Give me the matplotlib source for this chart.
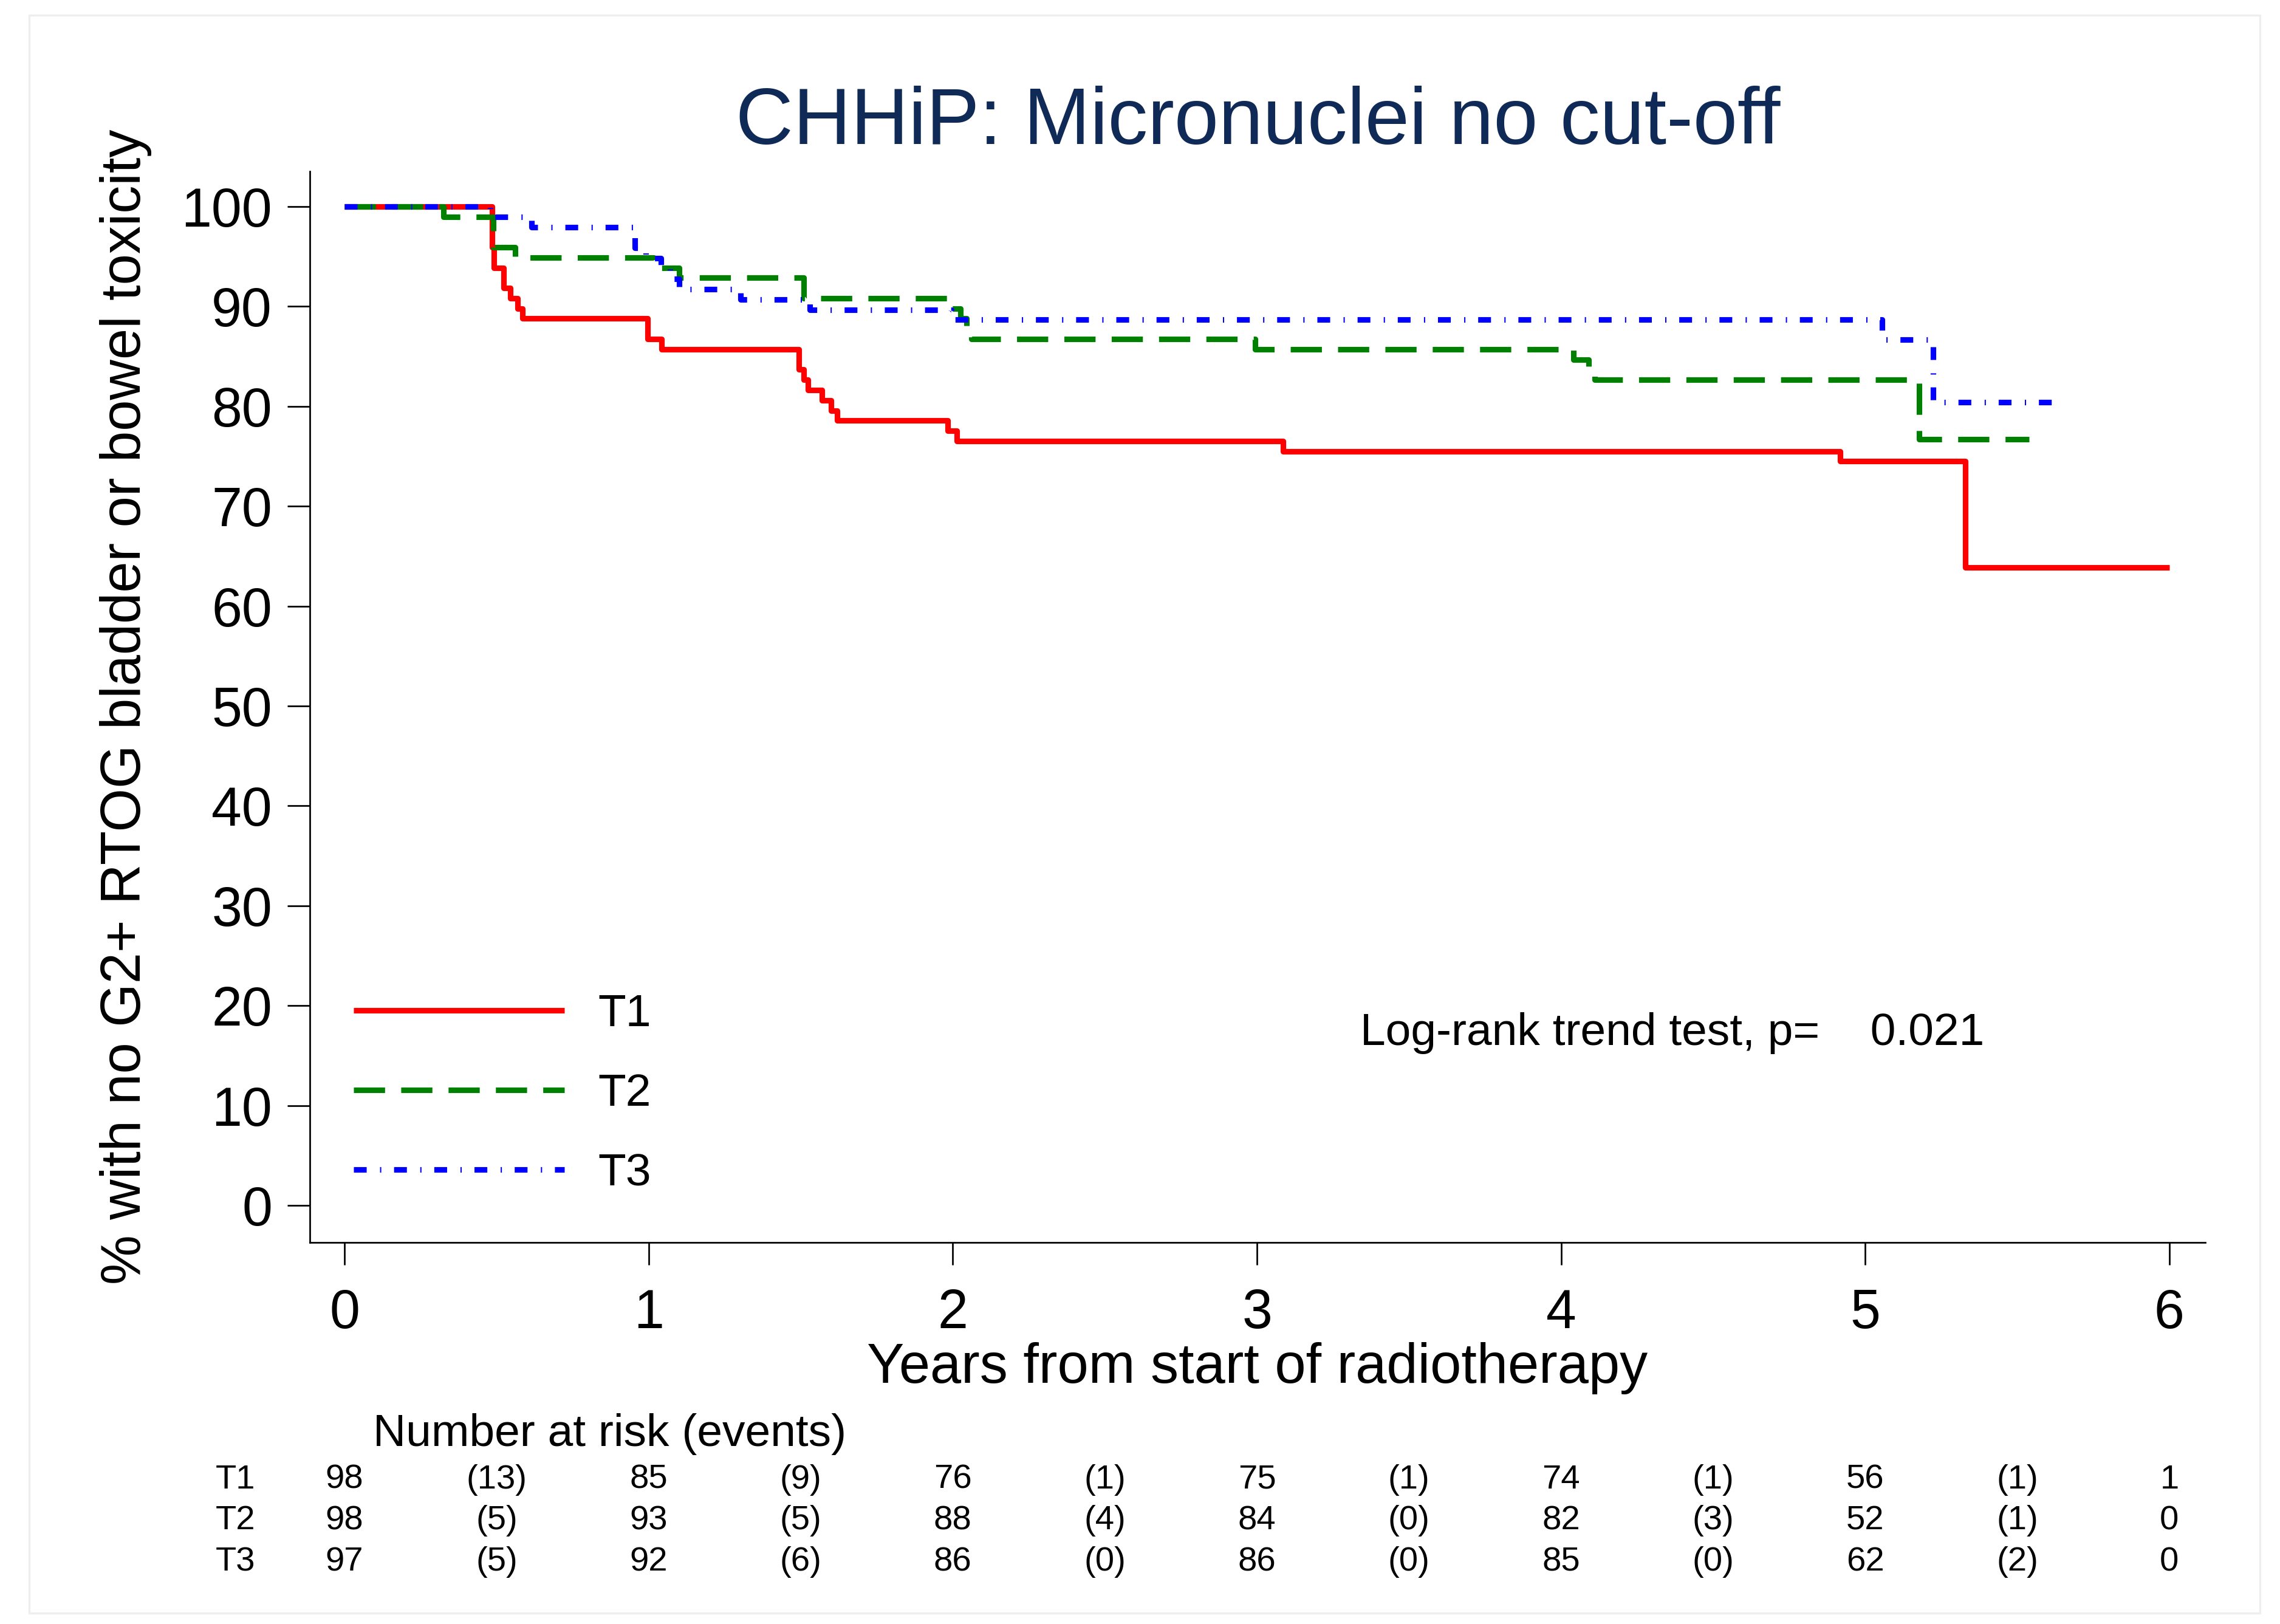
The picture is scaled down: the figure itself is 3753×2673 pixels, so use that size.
import matplotlib
matplotlib.use("Agg")
import matplotlib.pyplot as plt
from matplotlib.patches import Rectangle
from matplotlib.transforms import blended_transform_factory

plt.rcParams['font.family'] = ['Liberation Sans', 'DejaVu Sans']

# ---- data ----
t1_times = [0, 0.485, 0.492, 0.523, 0.546, 0.569, 0.585, 0.997, 1.043, 1.494, 1.509, 1.524,
            1.570, 1.600, 1.620, 1.983, 2.013, 3.086, 4.917, 5.329]
t1_surv = [100, 95.92, 93.88, 91.84, 90.82, 89.80, 88.78, 86.73, 85.71, 83.67, 82.65, 81.63,
           80.61, 79.59, 78.57, 77.55, 76.53, 75.51, 74.49, 63.85]
t1_end = 6.0

t2_times = [0, 0.325, 0.490, 0.561, 1.017, 1.100, 1.510, 1.985, 2.025, 2.045, 2.062, 2.995,
            4.040, 4.090, 4.110, 5.177]
t2_surv = [100, 98.98, 95.92, 94.90, 93.88, 92.86, 90.82, 89.80, 88.78, 87.76, 86.73, 85.71,
           84.69, 83.67, 82.65, 76.70]
t2_end = 5.538

t3_times = [0, 0.480, 0.615, 0.954, 0.990, 1.040, 1.070, 1.100, 1.302, 1.530, 1.995, 5.055, 5.223]
t3_surv = [100, 98.97, 97.94, 95.88, 94.85, 93.81, 92.78, 91.75, 90.72, 89.69, 88.66, 86.70, 80.40]
t3_end = 5.644

group_labels = ["T1", "T2", "T3"]
year_ticks = [0, 1, 2, 3, 4, 5, 6]
pct_ticks = [0, 10, 20, 30, 40, 50, 60, 70, 80, 90, 100]

t1_at_risk = [98, 85, 76, 75, 74, 56, 1]
t1_events = [13, 9, 1, 1, 1, 1]
t2_at_risk = [98, 93, 88, 84, 82, 52, 0]
t2_events = [5, 5, 4, 0, 3, 1]
t3_at_risk = [97, 92, 86, 86, 85, 62, 0]
t3_events = [5, 6, 0, 0, 0, 2]

title_text = "CHHiP: Micronuclei no cut-off"
ylabel_text = "% with no G2+ RTOG bladder or bowel toxicity"
xlabel_text = "Years from start of radiotherapy"
logrank_text = "Log-rank trend test, p=    0.021"

# ---- figure ----
W, H, DPI = 3753, 2673, 300
fig = plt.figure(figsize=(W / DPI, H / DPI), dpi=DPI)
fig.patch.set_facecolor('white')

# faint outer frame
fig.patches.append(Rectangle((48 / W, 1 - 2655 / H), (3720 - 48) / W, (2655 - 25) / H,
                             transform=fig.transFigure, fill=False, edgecolor='#eeeeee',
                             lw=0.8, zorder=0))

ax = fig.add_axes([510 / W, 1 - 2045 / H, (3630 - 510) / W, (2045 - 282) / H])
ax.set_xlim(-0.114, 6.118)
ax.set_ylim(-3.71, 103.53)

lw = 2.2
series = [
    (t1_times, t1_surv, t1_end, '#ff0000', None),
    (t2_times, t2_surv, t2_end, '#008000', (0, (5.6, 2.9))),
    (t3_times, t3_surv, t3_end, '#0000ff', (0, (2.3, 2.4, 0.22, 2.3))),
]
handles = []
for (tt, ss, te, col, dash), lab in zip(series, group_labels):
    xs = list(tt) + [te]
    ys = list(ss) + [ss[-1]]
    kw = dict(color=col, lw=lw, where='post', solid_capstyle='butt', dash_capstyle='butt')
    if dash is not None:
        kw['linestyle'] = dash
    line, = ax.step(xs, ys, label=lab, **kw)
    handles.append(line)

for sp in ['top', 'right']:
    ax.spines[sp].set_visible(False)
for sp in ['left', 'bottom']:
    ax.spines[sp].set_linewidth(0.65)

ax.set_xticks(year_ticks)
ax.set_yticks(pct_ticks)
ax.tick_params(axis='both', which='major', length=8.9, width=0.65, labelsize=21.5, direction='out')
ax.tick_params(axis='x', pad=9)
ax.tick_params(axis='y', pad=6)

ax.set_xlabel(xlabel_text, fontsize=22.1, labelpad=1)
ax.set_ylabel(ylabel_text, fontsize=22.1, labelpad=11.5)

fig.text(2071 / W, 1 - 237 / H, title_text, ha='center', va='baseline',
         fontsize=31.5, color='#0f2a56')

ax.text(3.34, 16.06, logrank_text, ha='left', va='baseline', fontsize=18)

leg = ax.legend(handles=handles, labels=group_labels, loc='center left',
                bbox_to_anchor=(0.0231, 0.1385), frameon=False, fontsize=18,
                handlelength=4.63, handletextpad=0.73, labelspacing=0.83,
                borderpad=0, borderaxespad=0)

# ---- number at risk table ----
trans = blended_transform_factory(ax.transData, fig.transFigure)
ax.text(0.094, 1 - 2380 / H, "Number at risk (events)", transform=trans, ha='left',
        va='baseline', fontsize=18, clip_on=False)
row_y = [1 - 2450 / H, 1 - 2517 / H, 1 - 2585 / H]
tbl_fs = 13.5
for lab, nr, ev, yy in zip(group_labels, [t1_at_risk, t2_at_risk, t3_at_risk],
                           [t1_events, t2_events, t3_events], row_y):
    ax.text(-0.425, yy, lab, transform=trans, ha='left', va='baseline', fontsize=tbl_fs, clip_on=False)
    for x, n in zip(year_ticks, nr):
        ax.text(x, yy, str(n), transform=trans, ha='center', va='baseline', fontsize=tbl_fs, clip_on=False)
    for i, e in enumerate(ev):
        ax.text(year_ticks[i] + 0.5, yy, "(%d)" % e, transform=trans, ha='center', va='baseline',
                fontsize=tbl_fs, clip_on=False)

fig.savefig("out.png", dpi=DPI, facecolor='white')
